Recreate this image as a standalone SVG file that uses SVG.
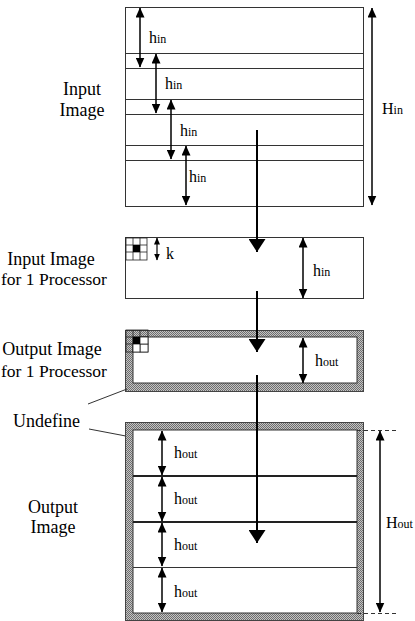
<svg xmlns="http://www.w3.org/2000/svg" width="415" height="621" viewBox="0 0 415 621">
<defs>
<pattern id="dither" width="2" height="2" patternUnits="userSpaceOnUse">
<rect width="2" height="2" fill="#c4c4c4"/>
<rect width="1" height="1" fill="#6e6e6e"/>
<rect x="1" y="1" width="1" height="1" fill="#6e6e6e"/>
</pattern>
<marker id="sh" markerUnits="userSpaceOnUse" markerWidth="10" markerHeight="9" refX="9.5" refY="4.5" orient="auto-start-reverse">
<path d="M0,0 L10,4.5 L0,9 Z" fill="#000"/>
</marker>
<marker id="kh" markerUnits="userSpaceOnUse" markerWidth="7" markerHeight="6" refX="6.5" refY="3" orient="auto-start-reverse">
<path d="M0,0 L7,3 L0,6 Z" fill="#000"/>
</marker>
<marker id="bh" markerUnits="userSpaceOnUse" markerWidth="14" markerHeight="17" refX="13" refY="8.5" orient="auto">
<path d="M0,0 L13,8.5 L0,17 Z" fill="#000"/>
</marker>
</defs>
<style>
.box{fill:#fff;stroke:#333;stroke-width:1}
.gray{fill:url(#dither);stroke:#444;stroke-width:1}
.ln{stroke:#333;stroke-width:1;fill:none}
.thick{stroke:#222;stroke-width:2;fill:none}
.arr{stroke:#000;stroke-width:1.5;fill:none;marker-start:url(#sh);marker-end:url(#sh)}
.karr{stroke:#000;stroke-width:1.2;fill:none;marker-start:url(#kh);marker-end:url(#kh)}
.big{stroke:#000;stroke-width:2;fill:none;marker-end:url(#bh)}
.dash{stroke:#333;stroke-width:1;stroke-dasharray:4 3;fill:none}
text{font-family:"Liberation Serif","Times New Roman",serif;fill:#000}
.lab{font-size:18px;text-anchor:middle}
.lft{font-size:17.5px}
.h{font-size:16px}
.sub{font-size:12px}
.grid{fill:none;stroke:#222;stroke-width:0.8}
</style>

<g id="input-image">
<rect class="box" x="125.5" y="7.5" width="238" height="199"/>
<path class="ln" d="M125.5,53.5H363.5M125.5,68.5H363.5M125.5,99.5H363.5M125.5,114.5H363.5M125.5,145.5H363.5M125.5,160.5H363.5"/>
<line class="arr" x1="140" y1="8" x2="140" y2="67"/>
<line class="arr" x1="156" y1="54" x2="156" y2="113"/>
<line class="arr" x1="171" y1="100" x2="171" y2="159"/>
<line class="arr" x1="186" y1="146" x2="186" y2="205"/>
<text x="149" y="43"><tspan class="h">h</tspan><tspan class="sub">in</tspan></text>
<text x="165" y="89"><tspan class="h">h</tspan><tspan class="sub">in</tspan></text>
<text x="180" y="136"><tspan class="h">h</tspan><tspan class="sub">in</tspan></text>
<text x="189" y="182"><tspan class="h">h</tspan><tspan class="sub">in</tspan></text>
<line class="arr" x1="372" y1="8" x2="372" y2="205"/>
<text x="382" y="114"><tspan class="h">H</tspan><tspan class="sub">in</tspan></text>
<text class="lab" x="82" y="95">Input</text>
<text class="lab" x="82" y="116">Image</text>
</g>

<g id="input-1proc">
<rect class="box" x="125.5" y="237.5" width="238" height="61"/>
<g class="grid">
<rect x="126" y="238" width="21" height="22"/>
<path d="M133,238V260M140,238V260M126,245H147M126,252H147"/>
</g>
<rect x="133" y="245" width="7" height="7" fill="#000"/>
<line class="karr" x1="157" y1="238" x2="157" y2="260"/>
<text x="166" y="259" class="h">k</text>
<line class="arr" x1="303" y1="238" x2="303" y2="298"/>
<text x="313" y="276"><tspan class="h">h</tspan><tspan class="sub">in</tspan></text>
<text class="lab" x="51" y="265">Input Image</text>
<text class="lft" x="1" y="285">for 1 Processor</text>
</g>

<g id="output-1proc">
<rect class="gray" x="125.5" y="330.5" width="238" height="61"/>
<rect class="box" x="133" y="337" width="224" height="46"/>
<g class="grid">
<rect x="126" y="330" width="22" height="22"/>
<path d="M133,330V352M140,330V352M126,337H148M126,344H148"/>
</g>
<rect x="140" y="344" width="8" height="8" fill="#fff" stroke="#222" stroke-width="0.8"/>
<rect x="133" y="344" width="7" height="8" fill="#fff" stroke="#222" stroke-width="0.8"/>
<rect x="140" y="337" width="8" height="7" fill="#fff" stroke="#222" stroke-width="0.8"/>
<rect x="133" y="337" width="7" height="7" fill="#000"/>
<line class="arr" x1="303" y1="338" x2="303" y2="383"/>
<text x="315" y="366"><tspan class="h">h</tspan><tspan class="sub">out</tspan></text>
<text class="lab" x="52" y="355">Output Image</text>
<text class="lft" x="1" y="377">for 1 Processor</text>
</g>

<g id="undefine">
<text x="13" y="427" style="font-size:18px">Undefine</text>
<path class="ln" d="M88,404L127,389M89,429L131,437"/>
</g>

<g id="output-image">
<rect class="gray" x="125.5" y="422.5" width="238" height="198"/>
<rect class="box" x="133" y="430" width="224" height="183"/>
<path class="thick" d="M133,476H357M133,522H357"/>
<path class="ln" d="M133,567.5H357"/>
<line class="arr" x1="162" y1="431" x2="162" y2="475"/>
<line class="arr" x1="162" y1="477" x2="162" y2="521"/>
<line class="arr" x1="162" y1="523" x2="162" y2="566"/>
<line class="arr" x1="162" y1="568" x2="162" y2="612"/>
<text x="174" y="458"><tspan class="h">h</tspan><tspan class="sub">out</tspan></text>
<text x="174" y="504"><tspan class="h">h</tspan><tspan class="sub">out</tspan></text>
<text x="174" y="550"><tspan class="h">h</tspan><tspan class="sub">out</tspan></text>
<text x="174" y="597"><tspan class="h">h</tspan><tspan class="sub">out</tspan></text>
<path class="dash" d="M357,430.5H396M357,613.5H396"/>
<line class="arr" x1="380" y1="431" x2="380" y2="612"/>
<text x="386" y="528"><tspan class="h">H</tspan><tspan class="sub">out</tspan></text>
<text class="lab" x="53" y="513">Output</text>
<text class="lab" x="53" y="533">Image</text>
</g>

<g id="connectors">
<line class="big" x1="257" y1="130" x2="257" y2="252"/>
<line class="big" x1="257" y1="291" x2="257" y2="352"/>
<line class="big" x1="257" y1="375" x2="257" y2="543"/>
</g>
</svg>
